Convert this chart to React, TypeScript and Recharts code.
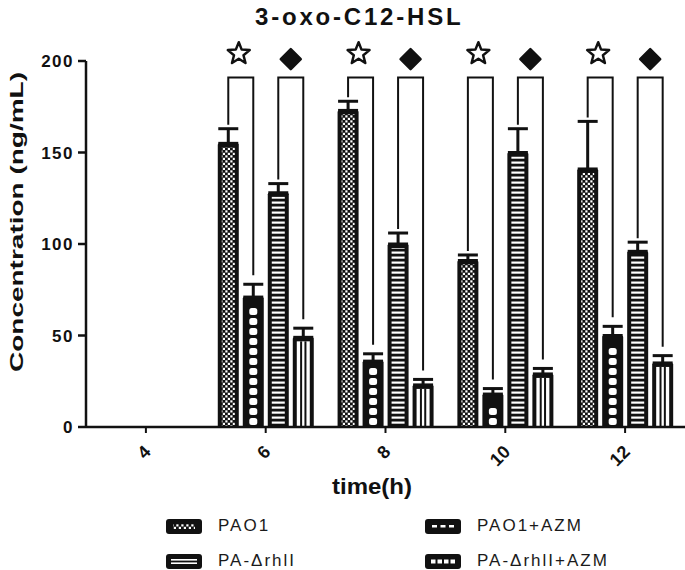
import React from 'react';
import { BarChart, Bar, XAxis, YAxis, ErrorBar } from 'recharts';

const FONT = '"Liberation Sans", Arial, sans-serif';
const INK = '#111';

const times = ['4', '6', '8', '10', '12'];
const seriesNames = ['PAO1', 'PAO1+AZM', 'PA-ΔrhlI', 'PA-ΔrhlI+AZM'];

const pao1 = [null, 155, 173, 91, 141];
const pao1Err = [null, 8, 5, 3, 26];
const pao1Azm = [null, 71, 36, 18, 50];
const pao1AzmErr = [null, 7, 4, 3, 5];
const rhlI = [null, 128, 100, 150, 96];
const rhlIErr = [null, 5, 6, 13, 5];
const rhlIAzm = [null, 49, 23, 29, 35];
const rhlIAzmErr = [null, 5, 3, 3, 4];

const yTicks = [0, 50, 100, 150, 200];
const bracketLevel = 191;
const starLevel = 204;
const diamondLevel = 201;

const data = times.map((t, i) => ({
  time: t,
  pao1: pao1[i],
  pao1Err: pao1Err[i],
  pao1Azm: pao1Azm[i],
  pao1AzmErr: pao1AzmErr[i],
  rhlI: rhlI[i],
  rhlIErr: rhlIErr[i],
  rhlIAzm: rhlIAzm[i],
  rhlIAzmErr: rhlIAzmErr[i],
}));

const BAR_GAP = 4;
const B = 4;

function starPath(cx: number, cy: number, R: number, r: number) {
  let d = '';
  for (let i = 0; i < 10; i++) {
    const a = -Math.PI / 2 + (i * Math.PI) / 5;
    const rad = i % 2 === 0 ? R : r;
    d += (i === 0 ? 'M' : 'L') + (cx + rad * Math.cos(a)).toFixed(1) + ',' + (cy + rad * Math.sin(a)).toFixed(1);
  }
  return d + 'Z';
}

type Kind = 'check' | 'chain' | 'hstripe' | 'vstripe';

function makeShape(kind: Kind, key: string, errKey: string, pair?: { sym: 'star' | 'diamond'; key: string; errKey: string }) {
  return (props: any) => {
    const { x, y, width, height, payload } = props;
    const v = payload?.[key];
    if (v == null || !(height > 0)) return <g />;
    const k = height / v;
    const base = y + height;
    const py = (val: number) => base - val * k;
    const iw = width - 2 * B;
    const parts: any[] = [<rect key="o" x={x} y={y} width={width} height={height} rx={1.5} fill={INK} />];

    if (kind === 'check') {
      parts.push(<rect key="i" x={x + B} y={y + B} width={iw} height={height - B} fill="url(#pCheck)" />);
    } else if (kind === 'chain') {
      for (let yy = base - 9; yy > y + B; yy -= 10) {
        const top = Math.max(yy, y + B);
        parts.push(<rect key={'c' + yy} x={x + width / 2 - 4} y={top} width={8} height={yy + 7 - top} rx={2.5} fill="#fff" />);
      }
    } else if (kind === 'hstripe') {
      parts.push(<rect key="i" x={x + B} y={y + B} width={iw} height={height - B} fill="url(#pHStripe)" />);
    } else {
      parts.push(<rect key="i" x={x + B} y={y + B} width={iw} height={height - B} fill="#fff" />);
      parts.push(<rect key="l1" x={x + B + iw / 3 - 1} y={y + B} width={2} height={height - B} fill={INK} />);
      parts.push(<rect key="l2" x={x + B + (2 * iw) / 3 - 1} y={y + B} width={2} height={height - B} fill={INK} />);
    }

    if (pair) {
      const pv = payload[pair.key];
      const pe = payload[pair.errKey] || 0;
      const e = payload[errKey] || 0;
      const lc = x - BAR_GAP - width / 2;
      const rc = x + width / 2;
      const top = py(bracketLevel);
      const lb = py(pv + pe) - 4;
      const rb = py(v + e) - 9;
      parts.push(
        <path key="br" d={`M${lc},${lb}V${top}H${rc}V${rb}`} fill="none" stroke={INK} strokeWidth={2} />
      );
      const cx = (lc + rc) / 2;
      if (pair.sym === 'star') {
        const cy = py(starLevel);
        parts.push(<path key="s" d={starPath(cx - 2, cy, 11.5, 5)} fill="#fff" stroke={INK} strokeWidth={2.5} strokeLinejoin="round" />);
      } else {
        const cy = py(diamondLevel);
        parts.push(
          <path key="d" d={`M${cx},${cy - 10}L${cx + 10},${cy}L${cx},${cy + 10}L${cx - 10},${cy}Z`} fill={INK} stroke={INK} strokeWidth={2.5} strokeLinejoin="round" />
        );
      }
    }
    return <g>{parts}</g>;
  };
}

const YTick = ({ x, y, payload }: any) => (
  <text x={x - 2} y={y} dy={6} textAnchor="end" fontSize={17} fontWeight="bold" fill={INK} letterSpacing={1.5} fontFamily={FONT}>
    {payload.value}
  </text>
);

const XTick = ({ x, y, payload }: any) => {
  const ax = x + 6;
  const ay = y + 18;
  return (
    <text x={ax} y={ay} textAnchor="end" fontSize={18} fontWeight="bold" fill={INK} fontFamily={FONT} transform={`rotate(-45, ${ax}, ${ay})`}>
      {payload.value}
    </text>
  );
};

const Swatch = ({ kind }: { kind: Kind }) => (
  <svg width={36} height={15}>
    <rect x={0} y={0} width={36} height={15} rx={3} fill={INK} />
    {kind === 'check' && <rect x={7} y={5} width={22} height={5} fill="url(#pCheck)" />}
    {kind === 'chain' &&
      [7, 15.5, 24].map((sx) => <rect key={sx} x={sx} y={6} width={5} height={2.5} fill="#fff" />)}
    {kind === 'hstripe' && (
      <>
        <rect x={5} y={5} width={26} height={1.6} fill="#fff" />
        <rect x={5} y={8.4} width={26} height={1.6} fill="#fff" />
      </>
    )}
    {kind === 'vstripe' &&
      [6, 12.5, 19, 25.5].map((sx) => <rect key={sx} x={sx} y={5.5} width={4.5} height={4} fill="#fff" />)}
  </svg>
);

const kinds: Kind[] = ['check', 'chain', 'hstripe', 'vstripe'];

export default function App() {
  return (
    <div style={{ position: 'absolute', left: 0, top: 0, width: 685, height: 570, background: '#fff', fontFamily: FONT }}>
      <svg width={0} height={0} style={{ position: 'absolute' }}>
        <defs>
          <pattern id="pCheck" width={5} height={5} patternUnits="userSpaceOnUse">
            <rect width={5} height={5} fill={INK} />
            <rect x={0.3} y={0.3} width={2.2} height={2.2} fill="#fff" />
            <rect x={2.8} y={2.8} width={2.2} height={2.2} fill="#fff" />
          </pattern>
          <pattern id="pHStripe" width={5} height={5} patternUnits="userSpaceOnUse">
            <rect width={5} height={5} fill={INK} />
            <rect y={1.5} width={5} height={2.2} fill="#fff" />
          </pattern>
        </defs>
      </svg>

      <div style={{ position: 'absolute', left: 255, top: 3, fontSize: 24, fontWeight: 'bold', letterSpacing: 2.8, color: INK, lineHeight: '28px', whiteSpace: 'nowrap' }}>
        3-oxo-C12-HSL
      </div>

      <BarChart
        width={685}
        height={570}
        data={data}
        margin={{ top: 61, right: 0, bottom: 113, left: 0 }}
        barGap={BAR_GAP}
        barCategoryGap="10%"
      >
        <XAxis
          dataKey="time"
          height={30}
          tick={<XTick />}
          tickSize={6}
          tickMargin={2}
          axisLine={{ stroke: INK, strokeWidth: 2.5 }}
          tickLine={{ stroke: INK, strokeWidth: 2 }}
          label={() => (
            <text x={372} y={494} textAnchor="middle" fontSize={22} fontWeight="bold" fill={INK} fontFamily={FONT} textLength={80} lengthAdjust="spacingAndGlyphs">
              time(h)
            </text>
          )}
        />
        <YAxis
          width={86}
          domain={[0, 200]}
          ticks={yTicks}
          interval={0}
          tick={<YTick />}
          tickSize={8}
          tickMargin={2}
          axisLine={{ stroke: INK, strokeWidth: 2.5 }}
          tickLine={{ stroke: INK, strokeWidth: 2.5 }}
          label={() => (
            <text x={23} y={222} textAnchor="middle" fontSize={19} fontWeight="bold" fill={INK} fontFamily={FONT} transform="rotate(-90, 23, 222)" textLength={300} lengthAdjust="spacingAndGlyphs">
              Concentration (ng/mL)
            </text>
          )}
        />
        <Bar dataKey="pao1" name={seriesNames[0]} isAnimationActive={false} shape={makeShape('check', 'pao1', 'pao1Err')}>
          <ErrorBar dataKey={(d: any) => (d.pao1Err == null ? null : [0, d.pao1Err])} width={10} strokeWidth={3} stroke={INK} direction="y" />
        </Bar>
        <Bar
          dataKey="pao1Azm"
          name={seriesNames[1]}
          isAnimationActive={false}
          shape={makeShape('chain', 'pao1Azm', 'pao1AzmErr', { sym: 'star', key: 'pao1', errKey: 'pao1Err' })}
        >
          <ErrorBar dataKey={(d: any) => (d.pao1AzmErr == null ? null : [0, d.pao1AzmErr])} width={10} strokeWidth={3} stroke={INK} direction="y" />
        </Bar>
        <Bar dataKey="rhlI" name={seriesNames[2]} isAnimationActive={false} shape={makeShape('hstripe', 'rhlI', 'rhlIErr')}>
          <ErrorBar dataKey={(d: any) => (d.rhlIErr == null ? null : [0, d.rhlIErr])} width={10} strokeWidth={3} stroke={INK} direction="y" />
        </Bar>
        <Bar
          dataKey="rhlIAzm"
          name={seriesNames[3]}
          isAnimationActive={false}
          shape={makeShape('vstripe', 'rhlIAzm', 'rhlIAzmErr', { sym: 'diamond', key: 'rhlI', errKey: 'rhlIErr' })}
        >
          <ErrorBar dataKey={(d: any) => (d.rhlIAzmErr == null ? null : [0, d.rhlIAzmErr])} width={10} strokeWidth={3} stroke={INK} direction="y" />
        </Bar>
      </BarChart>

      <div style={{ position: 'absolute', left: 166, top: 518, display: 'grid', gridTemplateColumns: '259px 260px', rowGap: 19 }}>
        {seriesNames.map((name, i) => (
          <div key={name} style={{ display: 'flex', alignItems: 'center', height: 16 }}>
            <Swatch kind={kinds[i]} />
            <span style={{ marginLeft: 16, fontSize: 17, letterSpacing: 2, color: '#1a1a1a', whiteSpace: 'nowrap' }}>{name}</span>
          </div>
        ))}
      </div>
    </div>
  );
}
